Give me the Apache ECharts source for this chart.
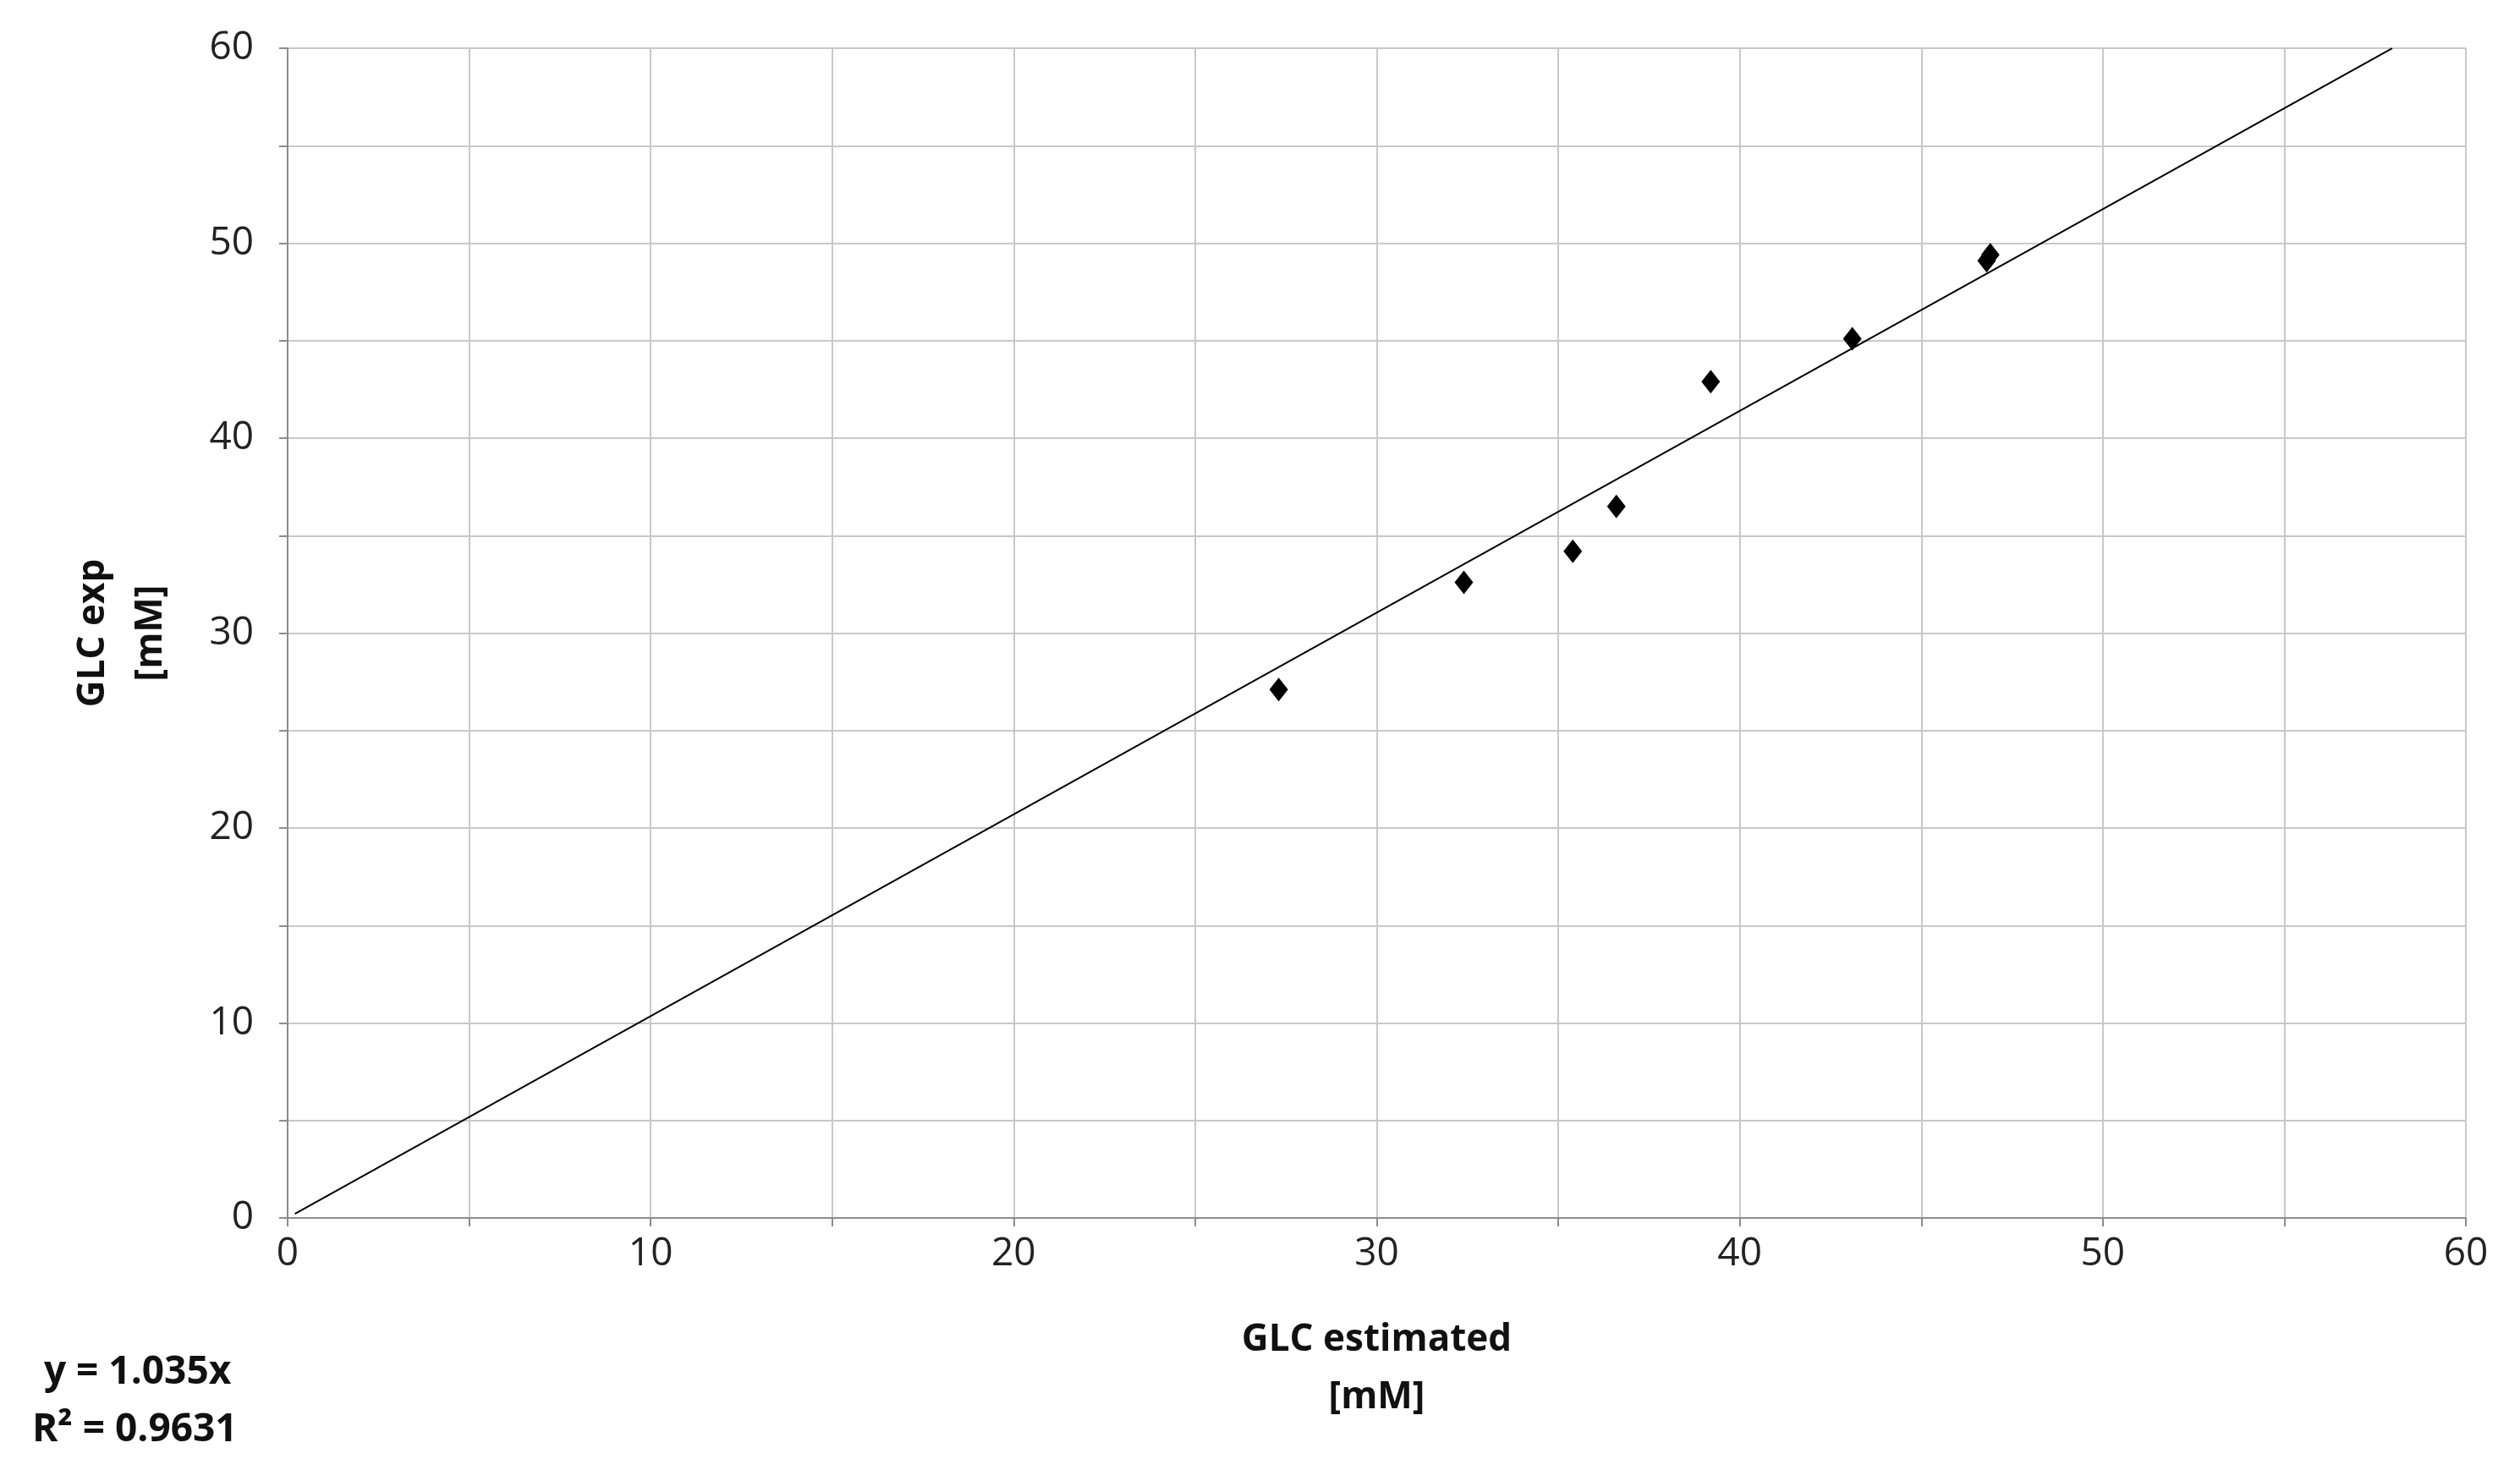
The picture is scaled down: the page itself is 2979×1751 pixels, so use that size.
<!DOCTYPE html>
<html><head><meta charset="utf-8">
<script src="https://cdn.jsdelivr.net/npm/echarts@6/dist/echarts.min.js"></script>
<style>html,body{margin:0;padding:0;background:#fff}#c{width:2979px;height:1751px}</style>
</head><body><div id="c"></div>
<script>
const estimated = [27.3, 32.4, 35.4, 36.6, 39.2, 43.1, 46.8, 46.9];
const experimental = [27.1, 32.6, 34.2, 36.5, 42.9, 45.1, 49.1, 49.4];
const slope = 1.035;
const trendX = [0.2, 57.97];
const xTitle = 'GLC estimated\n[mM]';
const yTitle = 'GLC exp\n[mM]';
const eqLines = ['y = 1.035x', 'R² = 0.9631'];

const font = '"Open Sans", "Noto Sans", sans-serif';
const chart = echarts.init(document.getElementById('c'));
const axisCommon = {
  type: 'value', min: 0, max: 60, interval: 5,
  axisLine: {show: true, lineStyle: {color: '#8c8c8c', width: 2}},
  axisTick: {show: true, length: 10, lineStyle: {color: '#8c8c8c', width: 2}},
  splitLine: {show: true, lineStyle: {color: '#c8c8c8', width: 2}},
  axisLabel: {fontSize: 46, color: '#222', fontFamily: font,
    formatter: v => (v % 10 === 0 ? String(v) : '')},
  nameLocation: 'middle',
  nameTextStyle: {fontSize: 44, fontWeight: 'bold', color: '#111', fontFamily: font, lineHeight: 68}
};
chart.setOption({
  animation: false,
  grid: {left: 340, right: 64, top: 57, bottom: 311},
  xAxis: Object.assign({}, axisCommon, {name: xTitle, nameGap: 110,
    axisLabel: Object.assign({}, axisCommon.axisLabel, {margin: 20})}),
  yAxis: Object.assign({}, axisCommon, {name: yTitle, nameGap: 128,
    axisLabel: Object.assign({}, axisCommon.axisLabel, {margin: 40})}),
  series: [
    {type: 'line', data: trendX.map(x => [x, slope * x]), symbol: 'none',
     lineStyle: {color: '#000', width: 2}, z: 2},
    {type: 'scatter', data: estimated.map((x, i) => [x, experimental[i]]),
     symbol: 'diamond', symbolSize: [22, 28], itemStyle: {color: '#000', opacity: 1}, z: 3}
  ],
  graphic: eqLines.map((t, i) => ({
    type: 'text', left: i === 0 ? 52 : 38, top: 1600 + i * 68,
    style: {text: t, fontSize: 46, fontWeight: 'bold', fill: '#111', fontFamily: font}
  }))
});
</script></body></html>
